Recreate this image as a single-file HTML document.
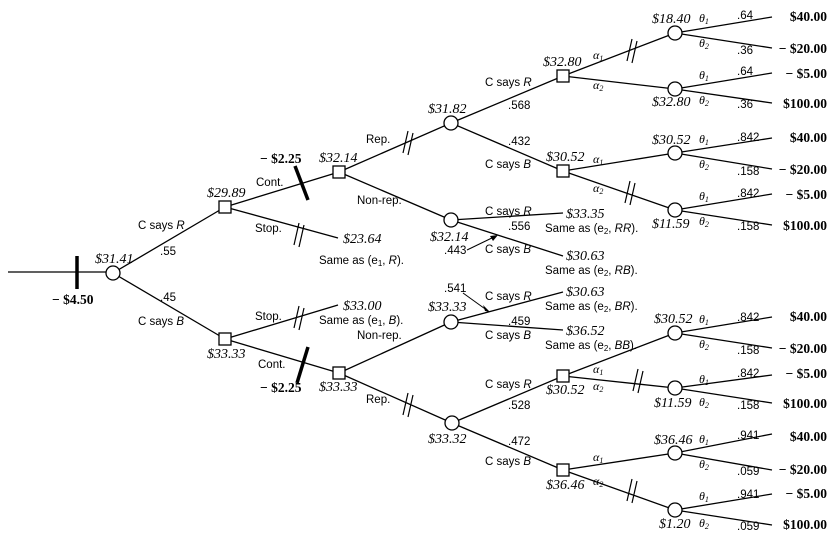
<!DOCTYPE html>
<html><head><meta charset="utf-8"><style>
body{margin:0;background:#fff}
svg{display:block}
.v{font-family:"Liberation Serif",serif;font-style:italic;font-size:14px}
.l{font-family:"Liberation Sans",sans-serif;font-size:11.5px}
.p{font-family:"Liberation Sans",sans-serif;font-size:11.5px}
.b{font-family:"Liberation Serif",serif;font-weight:bold;font-size:13.5px}
.g{font-family:"Liberation Serif",serif;font-style:italic;font-size:12px}
</style></head><body>
<svg width="836" height="539" viewBox="0 0 836 539" xmlns="http://www.w3.org/2000/svg">
<defs>
<g id="dd"><line x1="-4" y1="10" x2="1" y2="-12" stroke="#000" stroke-width="1.2"/><line x1="1" y1="12" x2="6" y2="-10" stroke="#000" stroke-width="1.2"/></g>
</defs>
<g stroke="#000" stroke-width="1.3" fill="none">
<line x1="8" y1="272" x2="106" y2="272"/>
<line x1="113" y1="273" x2="225" y2="207"/>
<line x1="113" y1="273" x2="225" y2="339"/>
<line x1="225" y1="207" x2="339" y2="172"/>
<line x1="225" y1="207" x2="338" y2="238"/>
<line x1="225" y1="339" x2="338" y2="305"/>
<line x1="225" y1="339" x2="339" y2="373"/>
<line x1="339" y1="172" x2="451" y2="123"/>
<line x1="339" y1="172" x2="451" y2="220"/>
<line x1="339" y1="373" x2="451" y2="322"/>
<line x1="339" y1="373" x2="452" y2="423"/>
<line x1="451" y1="123" x2="563" y2="76"/>
<line x1="451" y1="123" x2="563" y2="171"/>
<line x1="451" y1="220" x2="563" y2="213"/>
<line x1="451" y1="220" x2="563" y2="256"/>
<line x1="451" y1="322" x2="563" y2="292"/>
<line x1="451" y1="322" x2="563" y2="330"/>
<line x1="452" y1="423" x2="563" y2="376"/>
<line x1="452" y1="423" x2="563" y2="470"/>
<line x1="563" y1="76" x2="675" y2="33"/>
<line x1="563" y1="76" x2="675" y2="89"/>
<line x1="563" y1="171" x2="675" y2="153"/>
<line x1="563" y1="171" x2="675" y2="210"/>
<line x1="563" y1="376" x2="675" y2="333"/>
<line x1="563" y1="376" x2="675" y2="388"/>
<line x1="563" y1="470" x2="675" y2="453"/>
<line x1="563" y1="470" x2="675" y2="510"/>
<line x1="675" y1="33" x2="772" y2="17"/><line x1="675" y1="33" x2="772" y2="48"/>
<line x1="675" y1="89" x2="772" y2="73"/><line x1="675" y1="89" x2="772" y2="103"/>
<line x1="675" y1="153" x2="772" y2="138"/><line x1="675" y1="153" x2="772" y2="169"/>
<line x1="675" y1="210" x2="772" y2="194"/><line x1="675" y1="210" x2="772" y2="225"/>
<line x1="675" y1="333" x2="772" y2="317"/><line x1="675" y1="333" x2="772" y2="348"/>
<line x1="675" y1="388" x2="772" y2="375"/><line x1="675" y1="388" x2="772" y2="403"/>
<line x1="675" y1="453" x2="772" y2="434"/><line x1="675" y1="453" x2="772" y2="470"/>
<line x1="675" y1="510" x2="772" y2="494"/><line x1="675" y1="510" x2="772" y2="525"/>
<line x1="467" y1="250" x2="496" y2="236" stroke-width="1"/>
<line x1="463" y1="293" x2="488" y2="311" stroke-width="1"/>
</g>
<polygon points="498,235 490,236 493,241" fill="#000"/>
<polygon points="490,312 483,305 485,311" fill="#000"/>
<g stroke="#000" stroke-width="1.3" fill="#fff">
<circle cx="113" cy="273" r="7"/>
<circle cx="451" cy="123" r="7"/><circle cx="451" cy="220" r="7"/>
<circle cx="451" cy="322" r="7"/><circle cx="452" cy="423" r="7"/>
<circle cx="675" cy="33" r="7"/><circle cx="675" cy="89" r="7"/>
<circle cx="675" cy="153" r="7"/><circle cx="675" cy="210" r="7"/>
<circle cx="675" cy="333" r="7"/><circle cx="675" cy="388" r="7"/>
<circle cx="675" cy="453" r="7"/><circle cx="675" cy="510" r="7"/>
<rect x="219" y="201" width="12" height="12"/><rect x="219" y="333" width="12" height="12"/>
<rect x="333" y="166" width="12" height="12"/><rect x="333" y="367" width="12" height="12"/>
<rect x="557" y="70" width="12" height="12"/><rect x="557" y="165" width="12" height="12"/>
<rect x="557" y="370" width="12" height="12"/><rect x="557" y="464" width="12" height="12"/>
</g>
<g stroke="#000" stroke-width="3.5">
<line x1="77" y1="256" x2="77" y2="289"/>
<line x1="295" y1="166" x2="308" y2="200"/>
<line x1="308" y1="347" x2="297" y2="383"/>
</g>
<use href="#dd" x="298" y="235"/>
<use href="#dd" x="298" y="318"/>
<use href="#dd" x="407" y="143"/>
<use href="#dd" x="407" y="405"/>
<use href="#dd" x="631" y="51"/>
<use href="#dd" x="629" y="193"/>
<use href="#dd" x="637" y="381"/>
<use href="#dd" x="631" y="491"/>
<g class="v">
<text x="95" y="263">$31.41</text>
<text x="207" y="197">$29.89</text>
<text x="207" y="358">$33.33</text>
<text x="319" y="162">$32.14</text>
<text x="319" y="391">$33.33</text>
<text x="343" y="243">$23.64</text>
<text x="343" y="310">$33.00</text>
<text x="428" y="113">$31.82</text>
<text x="430" y="241">$32.14</text>
<text x="428" y="311">$33.33</text>
<text x="428" y="443">$33.32</text>
<text x="543" y="66">$32.80</text>
<text x="546" y="161">$30.52</text>
<text x="546" y="394">$30.52</text>
<text x="546" y="489">$36.46</text>
<text x="566" y="218">$33.35</text>
<text x="566" y="260">$30.63</text>
<text x="566" y="296">$30.63</text>
<text x="566" y="335">$36.52</text>
<text x="652" y="23">$18.40</text>
<text x="652" y="106">$32.80</text>
<text x="652" y="144">$30.52</text>
<text x="652" y="228">$11.59</text>
<text x="654" y="323">$30.52</text>
<text x="654" y="407">$11.59</text>
<text x="654" y="444">$36.46</text>
<text x="659" y="528">$1.20</text>
</g>
<g class="l">
<text x="138" y="229">C says <tspan font-style="italic">R</tspan></text>
<text x="138" y="325">C says <tspan font-style="italic">B</tspan></text>
<text x="256" y="186">Cont.</text>
<text x="255" y="232">Stop.</text>
<text x="255" y="320">Stop.</text>
<text x="258" y="368">Cont.</text>
<text x="366" y="143">Rep.</text>
<text x="357" y="204">Non-rep.</text>
<text x="357" y="339">Non-rep.</text>
<text x="366" y="403">Rep.</text>
<text x="319" y="264">Same as (e<tspan font-size="8" dy="2">1</tspan><tspan dy="-2">, </tspan><tspan font-style="italic">R</tspan>).</text>
<text x="319" y="324">Same as (e<tspan font-size="8" dy="2">1</tspan><tspan dy="-2">, </tspan><tspan font-style="italic">B</tspan>).</text>
<text x="485" y="86">C says <tspan font-style="italic">R</tspan></text>
<text x="485" y="168">C says <tspan font-style="italic">B</tspan></text>
<text x="485" y="215">C says <tspan font-style="italic">R</tspan></text>
<text x="485" y="253">C says <tspan font-style="italic">B</tspan></text>
<text x="485" y="300">C says <tspan font-style="italic">R</tspan></text>
<text x="485" y="339">C says <tspan font-style="italic">B</tspan></text>
<text x="485" y="388">C says <tspan font-style="italic">R</tspan></text>
<text x="485" y="465">C says <tspan font-style="italic">B</tspan></text>
<text x="545" y="232">Same as (e<tspan font-size="8" dy="2">2</tspan><tspan dy="-2">, </tspan><tspan font-style="italic">RR</tspan>).</text>
<text x="545" y="274">Same as (e<tspan font-size="8" dy="2">2</tspan><tspan dy="-2">, </tspan><tspan font-style="italic">RB</tspan>).</text>
<text x="545" y="310">Same as (e<tspan font-size="8" dy="2">2</tspan><tspan dy="-2">, </tspan><tspan font-style="italic">BR</tspan>).</text>
<text x="545" y="349">Same as (e<tspan font-size="8" dy="2">2</tspan><tspan dy="-2">, </tspan><tspan font-style="italic">BB</tspan>).</text>
</g>
<g class="p">
<text x="160" y="255">.55</text>
<text x="160" y="301">.45</text>
<text x="508" y="109">.568</text>
<text x="508" y="145">.432</text>
<text x="508" y="230">.556</text>
<text x="444" y="254">.443</text>
<text x="444" y="292">.541</text>
<text x="508" y="325">.459</text>
<text x="508" y="409">.528</text>
<text x="508" y="445">.472</text>
<text x="737" y="19">.64</text><text x="737" y="54">.36</text>
<text x="737" y="75">.64</text><text x="737" y="108">.36</text>
<text x="737" y="141">.842</text><text x="737" y="175">.158</text>
<text x="737" y="197">.842</text><text x="737" y="230">.158</text>
<text x="737" y="321">.842</text><text x="737" y="354">.158</text>
<text x="737" y="377">.842</text><text x="737" y="409">.158</text>
<text x="737" y="439">.941</text><text x="737" y="475">.059</text>
<text x="737" y="498">.941</text><text x="737" y="530">.059</text>
</g>
<g class="g">
<text x="593" y="59">α<tspan font-size="8" dy="2">1</tspan></text>
<text x="593" y="89">α<tspan font-size="8" dy="2">2</tspan></text>
<text x="593" y="163">α<tspan font-size="8" dy="2">1</tspan></text>
<text x="593" y="192">α<tspan font-size="8" dy="2">2</tspan></text>
<text x="593" y="373">α<tspan font-size="8" dy="2">1</tspan></text>
<text x="593" y="390">α<tspan font-size="8" dy="2">2</tspan></text>
<text x="593" y="461">α<tspan font-size="8" dy="2">1</tspan></text>
<text x="593" y="485">α<tspan font-size="8" dy="2">2</tspan></text>
</g>
<g class="g">
<text x="699" y="22">θ<tspan font-size="8" dy="2">1</tspan></text><text x="699" y="47">θ<tspan font-size="8" dy="2">2</tspan></text>
<text x="699" y="79">θ<tspan font-size="8" dy="2">1</tspan></text><text x="699" y="104">θ<tspan font-size="8" dy="2">2</tspan></text>
<text x="699" y="143">θ<tspan font-size="8" dy="2">1</tspan></text><text x="699" y="168">θ<tspan font-size="8" dy="2">2</tspan></text>
<text x="699" y="200">θ<tspan font-size="8" dy="2">1</tspan></text><text x="699" y="225">θ<tspan font-size="8" dy="2">2</tspan></text>
<text x="699" y="323">θ<tspan font-size="8" dy="2">1</tspan></text><text x="699" y="348">θ<tspan font-size="8" dy="2">2</tspan></text>
<text x="699" y="383">θ<tspan font-size="8" dy="2">1</tspan></text><text x="699" y="406">θ<tspan font-size="8" dy="2">2</tspan></text>
<text x="699" y="443">θ<tspan font-size="8" dy="2">1</tspan></text><text x="699" y="468">θ<tspan font-size="8" dy="2">2</tspan></text>
<text x="699" y="500">θ<tspan font-size="8" dy="2">1</tspan></text><text x="699" y="527">θ<tspan font-size="8" dy="2">2</tspan></text>
</g>
<g class="b" text-anchor="end">
<text x="827" y="21">$40.00</text><text x="827" y="53">− $20.00</text>
<text x="827" y="78">− $5.00</text><text x="827" y="108">$100.00</text>
<text x="827" y="142">$40.00</text><text x="827" y="174">− $20.00</text>
<text x="827" y="199">− $5.00</text><text x="827" y="230">$100.00</text>
<text x="827" y="321">$40.00</text><text x="827" y="353">− $20.00</text>
<text x="827" y="378">− $5.00</text><text x="827" y="408">$100.00</text>
<text x="827" y="441">$40.00</text><text x="827" y="474">− $20.00</text>
<text x="827" y="498">− $5.00</text><text x="827" y="529">$100.00</text>
</g>
<g class="b">
<text x="52" y="304">− $4.50</text>
<text x="260" y="163">− $2.25</text>
<text x="260" y="392">− $2.25</text>
</g>
</svg>
</body></html>
